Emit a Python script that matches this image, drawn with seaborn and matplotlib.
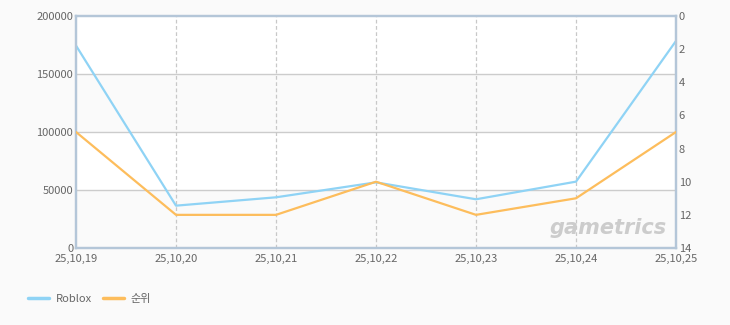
import matplotlib
matplotlib.use("Agg")
import matplotlib.pyplot as plt
import seaborn as sns
import pandas as pd
from matplotlib.lines import Line2D

dates = ["25,10,19", "25,10,20", "25,10,21", "25,10,22", "25,10,23", "25,10,24", "25,10,25"]
roblox = [174500, 36500, 43700, 56600, 42000, 57200, 178500]
rank = [7, 12, 12, 10, 12, 11, 7]
left_ticks = [0, 50000, 100000, 150000, 200000]
right_ticks = [0, 2, 4, 6, 8, 10, 12, 14]

sns.set_style("white")
plt.rcParams['font.family'] = ['Noto Sans CJK KR', 'DejaVu Sans']

BG = "#fafafa"
SPINE = "#b4c6d8"
TXT = "#666666"
BLUE = "#8fd3f5"
ORANGE = "#fdbd5c"

df = pd.DataFrame({"date": dates, "x": range(len(dates)), "Roblox": roblox, "rank": rank})

fig = plt.figure(figsize=(7.3, 3.25), dpi=100, facecolor=BG)
ax = fig.add_axes([76/730, 1-248/325, 600/730, 232/325])
ax.set_facecolor("white")

# alternating bands
for i in range(len(left_ticks)-1):
    if i % 2 == 0:
        ax.axhspan(left_ticks[i], left_ticks[i+1], color=BG, zorder=0, lw=0)
for y in left_ticks[1:-1]:
    ax.axhline(y, color="#cccccc", lw=1, zorder=1)
for xi in range(1, len(dates)-1):
    ax.axvline(xi, color="#c8c8c8", lw=0.9, ls=(0, (3, 2)), zorder=1)

sns.lineplot(data=df, x="x", y="Roblox", ax=ax, color=BLUE, lw=1.6, zorder=3, legend=False)
ax.set_ylim(0, 200000)
ax.set_xlim(0, len(dates)-1)
ax.set_yticks(left_ticks)
ax.set_yticklabels([str(v) for v in left_ticks])
ax.set_xticks(range(len(dates)))
ax.set_xticklabels(dates)
ax.set_xlabel("")
ax.set_ylabel("")

ax2 = ax.twinx()
sns.lineplot(data=df, x="x", y="rank", ax=ax2, color=ORANGE, lw=1.6, zorder=3, legend=False)
ax2.set_ylim(14, 0)
ax2.set_yticks(right_ticks)
ax2.set_yticklabels([str(v) for v in right_ticks])
ax2.set_ylabel("")
ax2.set_xlim(0, len(dates)-1)

for a in (ax, ax2):
    for s in a.spines.values():
        s.set_color(SPINE)
        s.set_linewidth(1.6)
    a.tick_params(length=0, labelsize=8, labelcolor=TXT, pad=2)
ax.tick_params(axis="x", pad=4)

ax2.text(0.985, 0.045, "gametrics", transform=ax.transAxes, ha="right", va="bottom",
         fontsize=15, fontweight="bold", style="italic", color="#cccccc", family="DejaVu Sans", zorder=2)

handles = [Line2D([], [], color=BLUE, lw=2.5), Line2D([], [], color=ORANGE, lw=2.5)]
fig.legend(handles, ["Roblox", "순위"], loc="center left", bbox_to_anchor=(18/730, 1-299/325),
           ncol=2, frameon=False, fontsize=8, labelcolor=TXT, handlelength=1.9,
           columnspacing=1.0, handletextpad=0.6)

fig.savefig("out.png", dpi=100, facecolor=BG)
